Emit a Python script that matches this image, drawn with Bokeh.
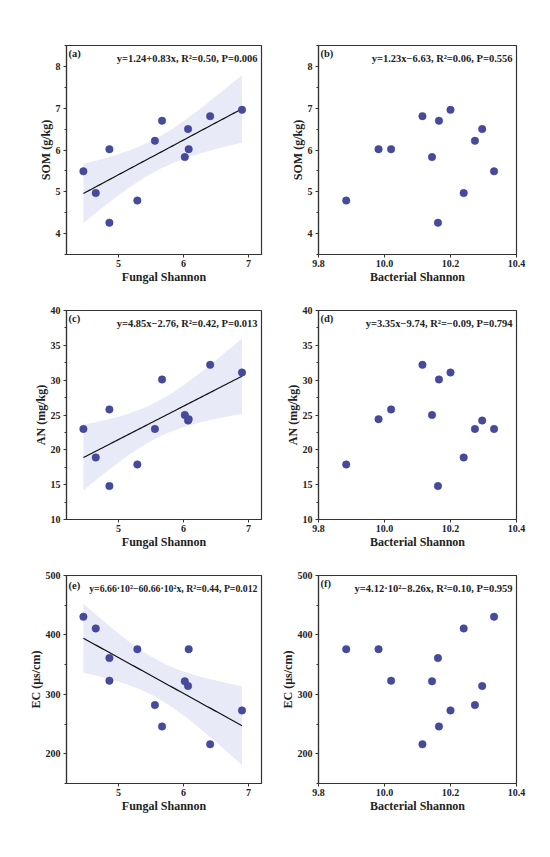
import numpy as np
from bokeh.plotting import figure
from bokeh.layouts import column, row
from bokeh.models import Range1d, FixedTicker, PrintfTickFormatter
from bokeh.core.properties import value
from bokeh.embed import file_html
from bokeh.resources import INLINE

# ---- data ----
fungal = [4.46, 4.65, 4.86, 4.86, 5.29, 5.56, 5.67, 6.02, 6.07, 6.08, 6.41, 6.90]
bacterial = [10.332, 10.240, 10.020, 10.162, 9.884, 10.274, 10.165, 10.144, 10.296, 9.982, 10.115, 10.200]
som = [5.49, 4.97, 6.02, 4.26, 4.79, 6.22, 6.70, 5.83, 6.50, 6.02, 6.81, 6.96]
an = [23.0, 18.9, 25.8, 14.8, 17.9, 23.0, 30.1, 25.0, 24.2, 24.4, 32.2, 31.1]
ec = [430.6, 411.0, 323.0, 361.0, 376.0, 282.0, 246.0, 322.0, 314.0, 376.0, 216.0, 273.0]

fungal_ticks = [5, 6, 7]
bacterial_ticks = [9.8, 10.0, 10.2, 10.4]
som_ticks = [4, 5, 6, 7, 8]
an_ticks = [10, 15, 20, 25, 30, 35, 40]
ec_ticks = [200, 300, 400, 500]

equations = {
    "a": "y=1.24+0.83x, R\u00b2=0.50, P=0.006",
    "b": "y=1.23x\u22126.63, R\u00b2=0.06, P=0.556",
    "c": "y=4.85x\u22122.76, R\u00b2=0.42, P=0.013",
    "d": "y=3.35x\u22129.74, R\u00b2=\u22120.09, P=0.794",
    "e": "y=6.66\u00b710\u00b2\u221260.66\u00b710\u00b2x, R\u00b2=0.44, P=0.012",
    "f": "y=4.12\u00b710\u00b2\u22128.26x, R\u00b2=0.10, P=0.959",
}

FONT = "Liberation Serif"
PT_COLOR = "#464A9A"
BAND = "#E4E7F6"
T975 = 2.228  # t critical value, df = 10


def make(tag, xs, ys, xr, yr, xticks, yticks, xlabel, ylabel, fit,
         fw, fh, bl, br, bt, bb, xfmt=None, eq_size="10.5px", eq_dy=13, tag_dy=8):
    p = figure(x_range=Range1d(*xr), y_range=Range1d(*yr),
               frame_width=fw, frame_height=fh,
               min_border_left=bl, min_border_right=br,
               min_border_top=bt, min_border_bottom=bb,
               output_backend="svg", toolbar_location=None,
               background_fill_color="white", border_fill_color="white")
    p.grid.visible = False
    p.outline_line_color = "#333333"
    p.outline_line_width = 1.2
    for ax in (p.xaxis[0], p.yaxis[0]):
        ax.axis_line_color = "#333333"
        ax.axis_line_width = 1.2
        ax.major_tick_in = 0
        ax.major_tick_out = 3
        ax.minor_tick_in = 0
        ax.minor_tick_out = 2
        ax.major_tick_line_color = "#333333"
        ax.minor_tick_line_color = "#333333"
        ax.major_label_text_font = FONT
        ax.major_label_text_font_style = "bold"
        ax.major_label_text_font_size = "10px"
        ax.major_label_text_color = "#222222"
        ax.axis_label_text_font = FONT
        ax.axis_label_text_font_style = "bold"
        ax.axis_label_text_font_size = "12px"
        ax.axis_label_text_color = "#222222"
        ax.axis_label_standoff = 0
    p.xaxis[0].major_label_standoff = 2
    p.yaxis[0].major_label_standoff = 3
    p.xaxis[0].ticker = FixedTicker(ticks=xticks)
    p.xaxis[0].minor_tick_line_color = None
    ystep = yticks[1] - yticks[0]
    ymin = [yticks[0] - ystep / 2] + [t + ystep / 2 for t in yticks]
    p.yaxis[0].ticker = FixedTicker(ticks=yticks, minor_ticks=ymin)
    if xfmt:
        p.xaxis[0].formatter = PrintfTickFormatter(format=xfmt)
    p.xaxis[0].axis_label = xlabel
    p.yaxis[0].axis_label = ylabel

    x = np.array(xs, dtype=float)
    y = np.array(ys, dtype=float)
    if fit:
        b1, b0 = np.polyfit(x, y, 1)
        n = len(x)
        resid = y - (b0 + b1 * x)
        s = np.sqrt(np.sum(resid ** 2) / (n - 2))
        xm = x.mean()
        sxx = np.sum((x - xm) ** 2)
        gx = np.linspace(x.min(), x.max(), 60)
        gy = b0 + b1 * gx
        se = s * np.sqrt(1.0 / n + (gx - xm) ** 2 / sxx)
        p.varea(x=gx, y1=gy - T975 * se, y2=gy + T975 * se,
                fill_color=BAND, fill_alpha=0.85)
        p.line(x=gx, y=gy, line_color="#111111", line_width=1.2)

    p.scatter(x=x, y=y, size=7.5, fill_color=PT_COLOR, line_color="#3C4090",
              line_width=0.5)

    # text positions derived from the ranges (pixels -> data units)
    dx = (xr[1] - xr[0]) / fw
    dy = (yr[1] - yr[0]) / fh
    p.text(x=[xr[0] + 2 * dx], y=[yr[1] - tag_dy * dy], text=["(" + tag + ")"],
           text_font=value(FONT), text_font_style="bold",
           text_font_size="10.5px", text_align="left",
           text_baseline="middle", text_color="#222222")
    p.text(x=[xr[1] - 4 * dx], y=[yr[1] - eq_dy * dy], text=[equations[tag]],
           text_font=value(FONT), text_font_style="bold",
           text_font_size=eq_size, text_align="right",
           text_baseline="middle", text_color="#222222")
    return p


FW_L, FW_R = 195, 198
pa = make("a", fungal, som, (4.2, 7.2), (3.5, 8.5), fungal_ticks, som_ticks,
          "Fungal Shannon", "SOM (g/kg)", True, FW_L, 209, 66, 9, 45, 32)
pb = make("b", bacterial, som, (9.8, 10.4), (3.5, 8.5), bacterial_ticks, som_ticks,
          "Bacterial Shannon", "SOM (g/kg)", False, FW_R, 209, 48, 10, 45, 32, "%.1f")
pc = make("c", fungal, an, (4.2, 7.2), (10, 40), fungal_ticks, an_ticks,
          "Fungal Shannon", "AN (mg/kg)", True, FW_L, 209, 66, 9, 24, 32)
pd_ = make("d", bacterial, an, (9.8, 10.4), (10, 40), bacterial_ticks, an_ticks,
           "Bacterial Shannon", "AN (mg/kg)", False, FW_R, 209, 48, 10, 24, 32, "%.1f")
pe = make("e", fungal, ec, (4.2, 7.2), (150, 500), fungal_ticks, ec_ticks,
          "Fungal Shannon", "EC (\u03bcs/cm)", True, FW_L, 208, 66, 9, 24, 32,
          eq_size="9.8px", eq_dy=13, tag_dy=10)
pf = make("f", bacterial, ec, (9.8, 10.4), (150, 500), bacterial_ticks, ec_ticks,
          "Bacterial Shannon", "EC (\u03bcs/cm)", False, FW_R, 208, 48, 10, 24, 32, "%.1f")

layout = column(row(pa, pb), row(pc, pd_), row(pe, pf))
open("out.html", "w").write(file_html(layout, INLINE))
